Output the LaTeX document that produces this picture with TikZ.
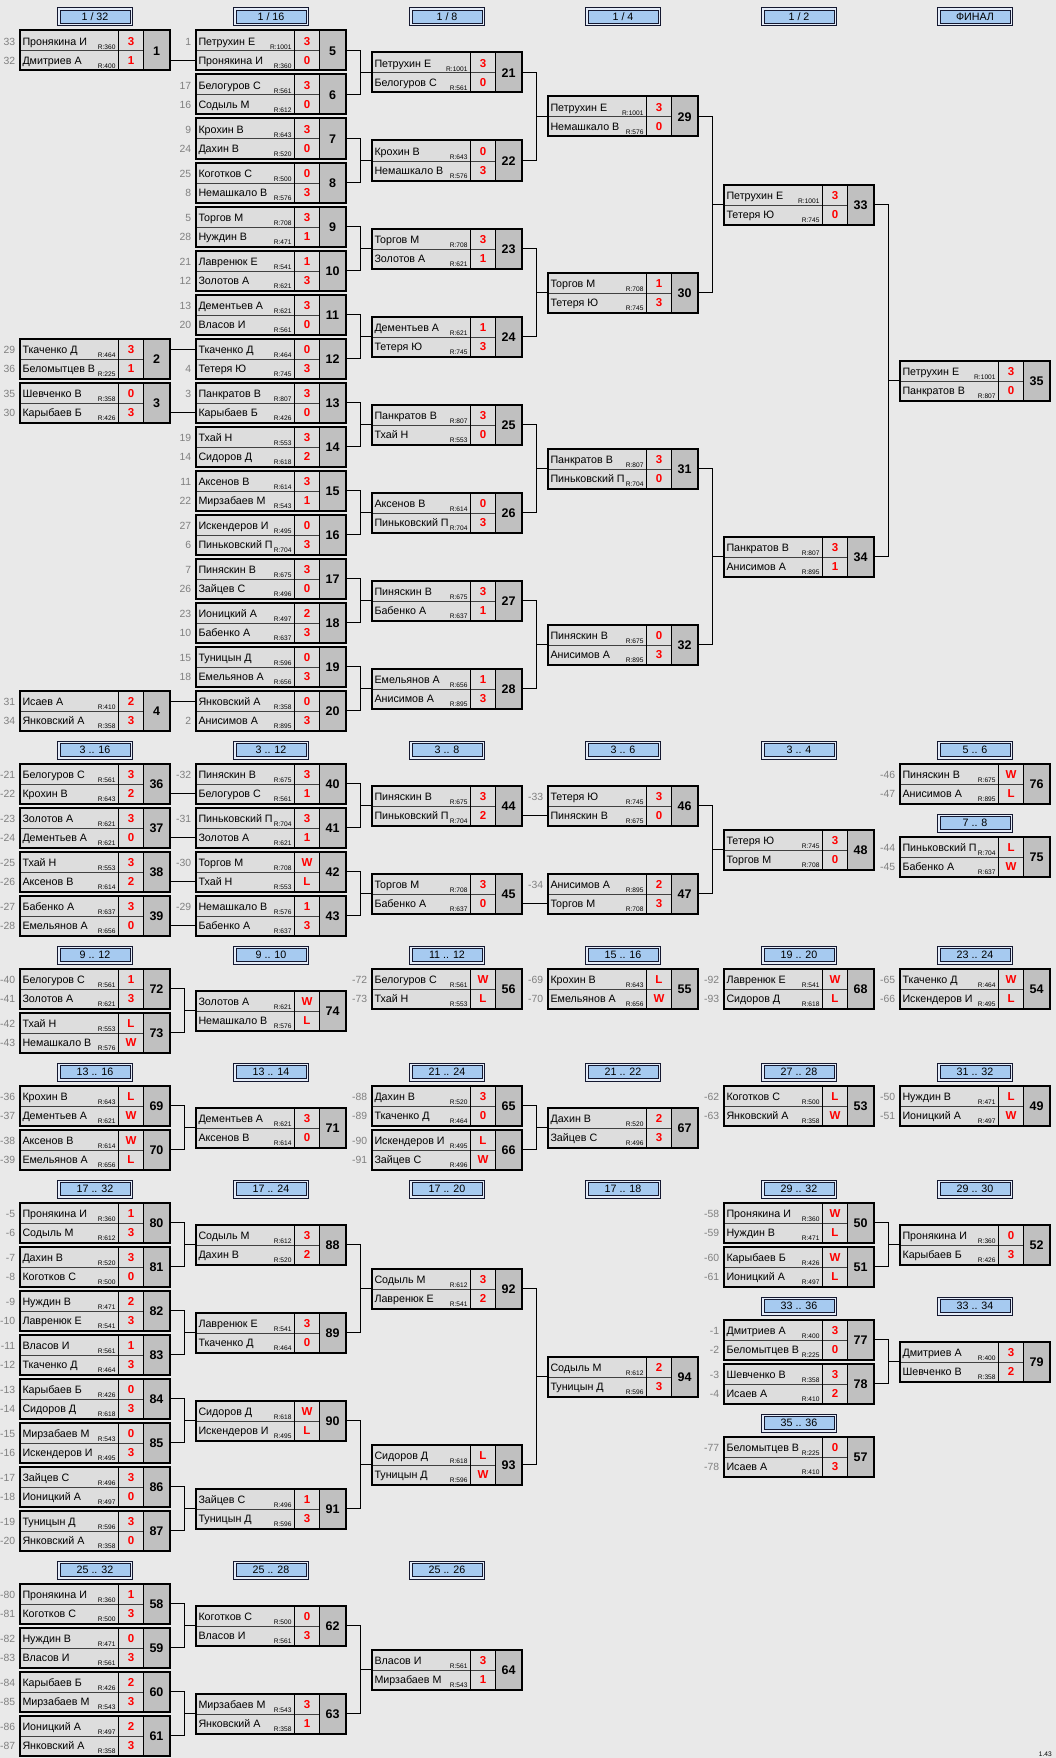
\documentclass[tikz,border=0pt]{standalone}
\usepackage{fontspec}
\setmainfont{Liberation Sans}
\usetikzlibrary{calc}
\definecolor{bgc}{RGB}{233,233,233}
\definecolor{cellc}{RGB}{221,221,221}
\definecolor{numc}{RGB}{192,192,192}
\definecolor{seedc}{RGB}{128,128,128}
\definecolor{redc}{RGB}{255,0,0}
\definecolor{hblue}{RGB}{166,202,240}
\definecolor{hgap}{RGB}{228,236,248}
\definecolor{hline}{RGB}{20,24,48}
\newcommand\MX{0}\newcommand\MY{0}\newcommand\curid{0}\newcommand\RB{0}\newcommand\HX{0}
\tikzset{
 mbox/.style={rectangle, minimum width=150pt, minimum height=40pt, inner sep=0pt, outer sep=0pt, fill=cellc},
 numfillst/.style={fill=numc},
 colsep/.style={draw=black, line width=1.5pt},
 rowsep/.style={draw=black!75, line width=1pt},
 mborder/.style={draw=black, line width=2pt},
 nametxt/.style={inner sep=0pt, outer sep=0pt, anchor=base west, font=\fontsize{10.7}{12}\selectfont},
 seedtxt/.style={inner sep=0pt, outer sep=0pt, anchor=base east, text=seedc, font=\fontsize{10.4}{12}\selectfont},
 rtxt/.style={inner sep=0pt, outer sep=0pt, anchor=base east, font=\fontsize{6.6}{8}\selectfont},
 scoretxt/.style={inner sep=0pt, outer sep=0pt, anchor=base, text=redc, font=\bfseries\fontsize{11.5}{13}\selectfont},
 numtxt/.style={inner sep=0pt, outer sep=0pt, font=\bfseries\fontsize{12.5}{14}\selectfont},
 hdout/.style={rectangle, minimum width=75pt, minimum height=18pt, inner sep=0pt, outer sep=0pt, draw=hline, line width=1pt, fill=hgap},
 hdin/.style={rectangle, minimum width=70pt, minimum height=13pt, inner sep=0pt, outer sep=0pt, draw=hline, line width=0.9pt, fill=hblue, text height=7.7pt, text depth=0pt, font=\fontsize{10.7}{12}\selectfont},
 conn/.style={draw=black, line width=1pt},
}
% match box: id, column, top
\newcommand\mtc[3]{%
 \pgfmathsetmacro\MX{19.5+176*#2}%
 \edef\MY{#3}%
 \edef\curid{#1}%
 \node[mbox] (m#1) at (\MX+75,\MY+20) {};
 \fill[numfillst] (\MX+124,\MY) rectangle (\MX+150,\MY+40);
 \draw[rowsep] (\MX,\MY+20.5) -- (\MX+124,\MY+20.5);
 \draw[colsep] (\MX+99,\MY) -- (\MX+99,\MY+40);
 \draw[colsep] (\MX+124,\MY) -- (\MX+124,\MY+40);
 \draw[mborder] (\MX,\MY) rectangle (\MX+150,\MY+40);
 \node[numtxt] (m#1no) at (\MX+137,\MY+20.5) {#1};
}
% player row: row, seed, name, rating, score
\newcommand\plr[5]{%
 \ifnum#1=1\relax\def\RB{15.3}\else\def\RB{33.8}\fi
 \if\relax\detokenize{#2}\relax\else
  \node[seedtxt] (m\curid s#1) at (\MX-4.3,\MY+\RB) {#2};
 \fi
 \node[nametxt] (m\curid n#1) at (\MX+3,\MY+\RB) {#3};
 \node[rtxt] (m\curid r#1) at (\MX+96,\MY+\RB+3.8) {R:#4};
 \node[scoretxt] (m\curid c#1) at (\MX+111.5,\MY+\RB) {#5};
}
% header: id, column, top, text
\newcommand\hdrc[4]{%
 \pgfmathsetmacro\HX{19.5+176*#2+75.5}%
 \node[hdout] (h#1) at (\HX,#3+9.5) {};
 \node[hdin] (h#1t) at (\HX,#3+9.5) {#4};
}
\newcommand\prc[3]{%
 \draw[conn] (m#1.east) -- ++(14.5,0) |- (m#3.west);
 \draw[conn] (m#2.east) -- ++(14.5,0) |- (m#3.west);
}
\newcommand\stc[3]{\draw[conn] ($(m#1.east)+(0,#3)$) -- ($(m#2.west)+(0,#3)$);}
\begin{document}
\begin{tikzpicture}[x=1pt,y=-1pt]
\useasboundingbox (0,0) rectangle (1056,1758);
\fill[bgc] (0,0) rectangle (1056,1758);
% ===== Section 1 =====
\hdrc{a0}{0}{7.5}{1 / 32}
\hdrc{a1}{1}{7.5}{1 / 16}
\hdrc{a2}{2}{7.5}{1 / 8}
\hdrc{a3}{3}{7.5}{1 / 4}
\hdrc{a4}{4}{7.5}{1 / 2}
\hdrc{a5}{5}{7.5}{ФИНАЛ}
\mtc{1}{0}{30.5}\plr{1}{33}{Пронякина И}{360}{3}\plr{2}{32}{Дмитриев А}{400}{1}
\mtc{2}{0}{338.5}\plr{1}{29}{Ткаченко Д}{464}{3}\plr{2}{36}{Беломытцев В}{225}{1}
\mtc{3}{0}{382.5}\plr{1}{35}{Шевченко В}{358}{0}\plr{2}{30}{Карыбаев Б}{426}{3}
\mtc{4}{0}{690.5}\plr{1}{31}{Исаев А}{410}{2}\plr{2}{34}{Янковский А}{358}{3}
\mtc{5}{1}{30.5}\plr{1}{1}{Петрухин Е}{1001}{3}\plr{2}{}{Пронякина И}{360}{0}
\mtc{6}{1}{74.5}\plr{1}{17}{Белогуров С}{561}{3}\plr{2}{16}{Содыль М}{612}{0}
\mtc{7}{1}{118.5}\plr{1}{9}{Крохин В}{643}{3}\plr{2}{24}{Дахин В}{520}{0}
\mtc{8}{1}{162.5}\plr{1}{25}{Коготков С}{500}{0}\plr{2}{8}{Немашкало В}{576}{3}
\mtc{9}{1}{206.5}\plr{1}{5}{Торгов М}{708}{3}\plr{2}{28}{Нуждин В}{471}{1}
\mtc{10}{1}{250.5}\plr{1}{21}{Лавренюк Е}{541}{1}\plr{2}{12}{Золотов А}{621}{3}
\mtc{11}{1}{294.5}\plr{1}{13}{Дементьев А}{621}{3}\plr{2}{20}{Власов И}{561}{0}
\mtc{12}{1}{338.5}\plr{1}{}{Ткаченко Д}{464}{0}\plr{2}{4}{Тетеря Ю}{745}{3}
\mtc{13}{1}{382.5}\plr{1}{3}{Панкратов В}{807}{3}\plr{2}{}{Карыбаев Б}{426}{0}
\mtc{14}{1}{426.5}\plr{1}{19}{Тхай Н}{553}{3}\plr{2}{14}{Сидоров Д}{618}{2}
\mtc{15}{1}{470.5}\plr{1}{11}{Аксенов В}{614}{3}\plr{2}{22}{Мирзабаев М}{543}{1}
\mtc{16}{1}{514.5}\plr{1}{27}{Искендеров И}{495}{0}\plr{2}{6}{Пиньковский П}{704}{3}
\mtc{17}{1}{558.5}\plr{1}{7}{Пиняскин В}{675}{3}\plr{2}{26}{Зайцев С}{496}{0}
\mtc{18}{1}{602.5}\plr{1}{23}{Ионицкий А}{497}{2}\plr{2}{10}{Бабенко А}{637}{3}
\mtc{19}{1}{646.5}\plr{1}{15}{Туницын Д}{596}{0}\plr{2}{18}{Емельянов А}{656}{3}
\mtc{20}{1}{690.5}\plr{1}{}{Янковский А}{358}{0}\plr{2}{2}{Анисимов А}{895}{3}
\mtc{21}{2}{52.5}\plr{1}{}{Петрухин Е}{1001}{3}\plr{2}{}{Белогуров С}{561}{0}
\mtc{22}{2}{140.5}\plr{1}{}{Крохин В}{643}{0}\plr{2}{}{Немашкало В}{576}{3}
\mtc{23}{2}{228.5}\plr{1}{}{Торгов М}{708}{3}\plr{2}{}{Золотов А}{621}{1}
\mtc{24}{2}{316.5}\plr{1}{}{Дементьев А}{621}{1}\plr{2}{}{Тетеря Ю}{745}{3}
\mtc{25}{2}{404.5}\plr{1}{}{Панкратов В}{807}{3}\plr{2}{}{Тхай Н}{553}{0}
\mtc{26}{2}{492.5}\plr{1}{}{Аксенов В}{614}{0}\plr{2}{}{Пиньковский П}{704}{3}
\mtc{27}{2}{580.5}\plr{1}{}{Пиняскин В}{675}{3}\plr{2}{}{Бабенко А}{637}{1}
\mtc{28}{2}{668.5}\plr{1}{}{Емельянов А}{656}{1}\plr{2}{}{Анисимов А}{895}{3}
\mtc{29}{3}{96.5}\plr{1}{}{Петрухин Е}{1001}{3}\plr{2}{}{Немашкало В}{576}{0}
\mtc{30}{3}{272.5}\plr{1}{}{Торгов М}{708}{1}\plr{2}{}{Тетеря Ю}{745}{3}
\mtc{31}{3}{448.5}\plr{1}{}{Панкратов В}{807}{3}\plr{2}{}{Пиньковский П}{704}{0}
\mtc{32}{3}{624.5}\plr{1}{}{Пиняскин В}{675}{0}\plr{2}{}{Анисимов А}{895}{3}
\mtc{33}{4}{184.5}\plr{1}{}{Петрухин Е}{1001}{3}\plr{2}{}{Тетеря Ю}{745}{0}
\mtc{34}{4}{536.5}\plr{1}{}{Панкратов В}{807}{3}\plr{2}{}{Анисимов А}{895}{1}
\mtc{35}{5}{360.5}\plr{1}{}{Петрухин Е}{1001}{3}\plr{2}{}{Панкратов В}{807}{0}
% ===== Section 2 =====
\hdrc{b0}{0}{740.5}{3 .. 16}
\hdrc{b1}{1}{740.5}{3 .. 12}
\hdrc{b2}{2}{740.5}{3 .. 8}
\hdrc{b3}{3}{740.5}{3 .. 6}
\hdrc{b4}{4}{740.5}{3 .. 4}
\hdrc{b5}{5}{740.5}{5 .. 6}
\hdrc{b6}{5}{813.5}{7 .. 8}
\mtc{36}{0}{763.5}\plr{1}{-21}{Белогуров С}{561}{3}\plr{2}{-22}{Крохин В}{643}{2}
\mtc{37}{0}{807.5}\plr{1}{-23}{Золотов А}{621}{3}\plr{2}{-24}{Дементьев А}{621}{0}
\mtc{38}{0}{851.5}\plr{1}{-25}{Тхай Н}{553}{3}\plr{2}{-26}{Аксенов В}{614}{2}
\mtc{39}{0}{895.5}\plr{1}{-27}{Бабенко А}{637}{3}\plr{2}{-28}{Емельянов А}{656}{0}
\mtc{40}{1}{763.5}\plr{1}{-32}{Пиняскин В}{675}{3}\plr{2}{}{Белогуров С}{561}{1}
\mtc{41}{1}{807.5}\plr{1}{-31}{Пиньковский П}{704}{3}\plr{2}{}{Золотов А}{621}{1}
\mtc{42}{1}{851.5}\plr{1}{-30}{Торгов М}{708}{W}\plr{2}{}{Тхай Н}{553}{L}
\mtc{43}{1}{895.5}\plr{1}{-29}{Немашкало В}{576}{1}\plr{2}{}{Бабенко А}{637}{3}
\mtc{44}{2}{785.5}\plr{1}{}{Пиняскин В}{675}{3}\plr{2}{}{Пиньковский П}{704}{2}
\mtc{45}{2}{873.5}\plr{1}{}{Торгов М}{708}{3}\plr{2}{}{Бабенко А}{637}{0}
\mtc{46}{3}{785.5}\plr{1}{-33}{Тетеря Ю}{745}{3}\plr{2}{}{Пиняскин В}{675}{0}
\mtc{47}{3}{873.5}\plr{1}{-34}{Анисимов А}{895}{2}\plr{2}{}{Торгов М}{708}{3}
\mtc{48}{4}{829.5}\plr{1}{}{Тетеря Ю}{745}{3}\plr{2}{}{Торгов М}{708}{0}
\mtc{76}{5}{763.5}\plr{1}{-46}{Пиняскин В}{675}{W}\plr{2}{-47}{Анисимов А}{895}{L}
\mtc{75}{5}{836.5}\plr{1}{-44}{Пиньковский П}{704}{L}\plr{2}{-45}{Бабенко А}{637}{W}
% ===== Section 3 =====
\hdrc{c0}{0}{945.5}{9 .. 12}
\hdrc{c1}{1}{945.5}{9 .. 10}
\hdrc{c2}{2}{945.5}{11 .. 12}
\hdrc{c3}{3}{945.5}{15 .. 16}
\hdrc{c4}{4}{945.5}{19 .. 20}
\hdrc{c5}{5}{945.5}{23 .. 24}
\mtc{72}{0}{968.5}\plr{1}{-40}{Белогуров С}{561}{1}\plr{2}{-41}{Золотов А}{621}{3}
\mtc{73}{0}{1012.5}\plr{1}{-42}{Тхай Н}{553}{L}\plr{2}{-43}{Немашкало В}{576}{W}
\mtc{74}{1}{990.5}\plr{1}{}{Золотов А}{621}{W}\plr{2}{}{Немашкало В}{576}{L}
\mtc{56}{2}{968.5}\plr{1}{-72}{Белогуров С}{561}{W}\plr{2}{-73}{Тхай Н}{553}{L}
\mtc{55}{3}{968.5}\plr{1}{-69}{Крохин В}{643}{L}\plr{2}{-70}{Емельянов А}{656}{W}
\mtc{68}{4}{968.5}\plr{1}{-92}{Лавренюк Е}{541}{W}\plr{2}{-93}{Сидоров Д}{618}{L}
\mtc{54}{5}{968.5}\plr{1}{-65}{Ткаченко Д}{464}{W}\plr{2}{-66}{Искендеров И}{495}{L}
% ===== Section 4 =====
\hdrc{d0}{0}{1062.5}{13 .. 16}
\hdrc{d1}{1}{1062.5}{13 .. 14}
\hdrc{d2}{2}{1062.5}{21 .. 24}
\hdrc{d3}{3}{1062.5}{21 .. 22}
\hdrc{d4}{4}{1062.5}{27 .. 28}
\hdrc{d5}{5}{1062.5}{31 .. 32}
\mtc{69}{0}{1085.5}\plr{1}{-36}{Крохин В}{643}{L}\plr{2}{-37}{Дементьев А}{621}{W}
\mtc{70}{0}{1129.5}\plr{1}{-38}{Аксенов В}{614}{W}\plr{2}{-39}{Емельянов А}{656}{L}
\mtc{71}{1}{1107.5}\plr{1}{}{Дементьев А}{621}{3}\plr{2}{}{Аксенов В}{614}{0}
\mtc{65}{2}{1085.5}\plr{1}{-88}{Дахин В}{520}{3}\plr{2}{-89}{Ткаченко Д}{464}{0}
\mtc{66}{2}{1129.5}\plr{1}{-90}{Искендеров И}{495}{L}\plr{2}{-91}{Зайцев С}{496}{W}
\mtc{67}{3}{1107.5}\plr{1}{}{Дахин В}{520}{2}\plr{2}{}{Зайцев С}{496}{3}
\mtc{53}{4}{1085.5}\plr{1}{-62}{Коготков С}{500}{L}\plr{2}{-63}{Янковский А}{358}{W}
\mtc{49}{5}{1085.5}\plr{1}{-50}{Нуждин В}{471}{L}\plr{2}{-51}{Ионицкий А}{497}{W}
% ===== Section 5 =====
\hdrc{e0}{0}{1179.5}{17 .. 32}
\hdrc{e1}{1}{1179.5}{17 .. 24}
\hdrc{e2}{2}{1179.5}{17 .. 20}
\hdrc{e3}{3}{1179.5}{17 .. 18}
\hdrc{e4}{4}{1179.5}{29 .. 32}
\hdrc{e5}{5}{1179.5}{29 .. 30}
\hdrc{e6}{4}{1296.5}{33 .. 36}
\hdrc{e7}{5}{1296.5}{33 .. 34}
\hdrc{e8}{4}{1413.5}{35 .. 36}
\mtc{80}{0}{1202.5}\plr{1}{-5}{Пронякина И}{360}{1}\plr{2}{-6}{Содыль М}{612}{3}
\mtc{81}{0}{1246.5}\plr{1}{-7}{Дахин В}{520}{3}\plr{2}{-8}{Коготков С}{500}{0}
\mtc{82}{0}{1290.5}\plr{1}{-9}{Нуждин В}{471}{2}\plr{2}{-10}{Лавренюк Е}{541}{3}
\mtc{83}{0}{1334.5}\plr{1}{-11}{Власов И}{561}{1}\plr{2}{-12}{Ткаченко Д}{464}{3}
\mtc{84}{0}{1378.5}\plr{1}{-13}{Карыбаев Б}{426}{0}\plr{2}{-14}{Сидоров Д}{618}{3}
\mtc{85}{0}{1422.5}\plr{1}{-15}{Мирзабаев М}{543}{0}\plr{2}{-16}{Искендеров И}{495}{3}
\mtc{86}{0}{1466.5}\plr{1}{-17}{Зайцев С}{496}{3}\plr{2}{-18}{Ионицкий А}{497}{0}
\mtc{87}{0}{1510.5}\plr{1}{-19}{Туницын Д}{596}{3}\plr{2}{-20}{Янковский А}{358}{0}
\mtc{88}{1}{1224.5}\plr{1}{}{Содыль М}{612}{3}\plr{2}{}{Дахин В}{520}{2}
\mtc{89}{1}{1312.5}\plr{1}{}{Лавренюк Е}{541}{3}\plr{2}{}{Ткаченко Д}{464}{0}
\mtc{90}{1}{1400.5}\plr{1}{}{Сидоров Д}{618}{W}\plr{2}{}{Искендеров И}{495}{L}
\mtc{91}{1}{1488.5}\plr{1}{}{Зайцев С}{496}{1}\plr{2}{}{Туницын Д}{596}{3}
\mtc{92}{2}{1268.5}\plr{1}{}{Содыль М}{612}{3}\plr{2}{}{Лавренюк Е}{541}{2}
\mtc{93}{2}{1444.5}\plr{1}{}{Сидоров Д}{618}{L}\plr{2}{}{Туницын Д}{596}{W}
\mtc{94}{3}{1356.5}\plr{1}{}{Содыль М}{612}{2}\plr{2}{}{Туницын Д}{596}{3}
\mtc{50}{4}{1202.5}\plr{1}{-58}{Пронякина И}{360}{W}\plr{2}{-59}{Нуждин В}{471}{L}
\mtc{51}{4}{1246.5}\plr{1}{-60}{Карыбаев Б}{426}{W}\plr{2}{-61}{Ионицкий А}{497}{L}
\mtc{52}{5}{1224.5}\plr{1}{}{Пронякина И}{360}{0}\plr{2}{}{Карыбаев Б}{426}{3}
\mtc{77}{4}{1319.5}\plr{1}{-1}{Дмитриев А}{400}{3}\plr{2}{-2}{Беломытцев В}{225}{0}
\mtc{78}{4}{1363.5}\plr{1}{-3}{Шевченко В}{358}{3}\plr{2}{-4}{Исаев А}{410}{2}
\mtc{79}{5}{1341.5}\plr{1}{}{Дмитриев А}{400}{3}\plr{2}{}{Шевченко В}{358}{2}
\mtc{57}{4}{1436.5}\plr{1}{-77}{Беломытцев В}{225}{0}\plr{2}{-78}{Исаев А}{410}{3}
% ===== Section 6 =====
\hdrc{f0}{0}{1560.5}{25 .. 32}
\hdrc{f1}{1}{1560.5}{25 .. 28}
\hdrc{f2}{2}{1560.5}{25 .. 26}
\mtc{58}{0}{1583.5}\plr{1}{-80}{Пронякина И}{360}{1}\plr{2}{-81}{Коготков С}{500}{3}
\mtc{59}{0}{1627.5}\plr{1}{-82}{Нуждин В}{471}{0}\plr{2}{-83}{Власов И}{561}{3}
\mtc{60}{0}{1671.5}\plr{1}{-84}{Карыбаев Б}{426}{2}\plr{2}{-85}{Мирзабаев М}{543}{3}
\mtc{61}{0}{1715.5}\plr{1}{-86}{Ионицкий А}{497}{2}\plr{2}{-87}{Янковский А}{358}{3}
\mtc{62}{1}{1605.5}\plr{1}{}{Коготков С}{500}{0}\plr{2}{}{Власов И}{561}{3}
\mtc{63}{1}{1693.5}\plr{1}{}{Мирзабаев М}{543}{3}\plr{2}{}{Янковский А}{358}{1}
\mtc{64}{2}{1649.5}\plr{1}{}{Власов И}{561}{3}\plr{2}{}{Мирзабаев М}{543}{1}
% ===== Connectors =====
\stc{1}{5}{10}\stc{2}{12}{-9.5}\stc{3}{13}{10}\stc{4}{20}{-9.5}
\prc{5}{6}{21}\prc{7}{8}{22}\prc{9}{10}{23}\prc{11}{12}{24}
\prc{13}{14}{25}\prc{15}{16}{26}\prc{17}{18}{27}\prc{19}{20}{28}
\prc{21}{22}{29}\prc{23}{24}{30}\prc{25}{26}{31}\prc{27}{28}{32}
\prc{29}{30}{33}\prc{31}{32}{34}\prc{33}{34}{35}
\stc{36}{40}{10}\stc{37}{41}{10}\stc{38}{42}{10}\stc{39}{43}{10}
\prc{40}{41}{44}\prc{42}{43}{45}
\stc{44}{46}{10}\stc{45}{47}{10}
\prc{46}{47}{48}
\prc{72}{73}{74}
\prc{69}{70}{71}\prc{65}{66}{67}
\prc{80}{81}{88}\prc{82}{83}{89}\prc{84}{85}{90}\prc{86}{87}{91}
\prc{88}{89}{92}\prc{90}{91}{93}\prc{92}{93}{94}
\prc{50}{51}{52}\prc{77}{78}{79}
\prc{58}{59}{62}\prc{60}{61}{63}\prc{62}{63}{64}
\node[inner sep=0pt, anchor=base east, font=\fontsize{6.6}{8}\selectfont] (ver) at (1052,1756) {1.43};
\end{tikzpicture}
\end{document}
